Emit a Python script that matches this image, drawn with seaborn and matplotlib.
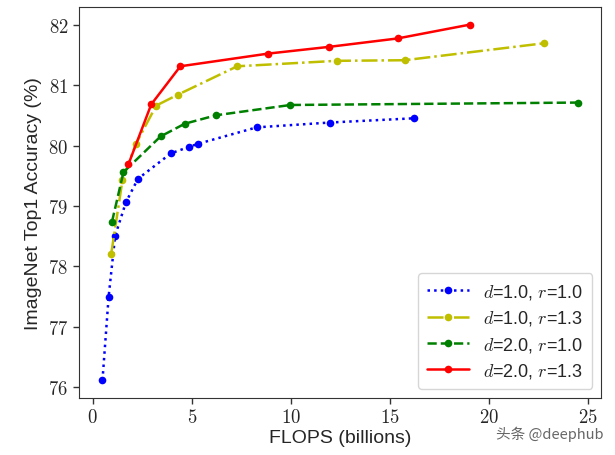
import matplotlib
matplotlib.use("Agg")
import matplotlib.pyplot as plt
import matplotlib.ticker as mticker
import seaborn as sns

# FLOPS (billions) and ImageNet top-1 accuracy
D10_R10_FLOPS = [0.49, 0.80, 1.13, 1.67, 2.28, 3.94, 4.88, 5.33, 8.27, 11.96, 16.20]
D10_R10_ACC = [76.12, 77.50, 78.51, 79.06, 79.45, 79.87, 79.98, 80.03, 80.30, 80.38, 80.45]

D10_R13_FLOPS = [0.93, 1.50, 2.18, 3.20, 4.29, 7.29, 12.30, 15.74, 22.76]
D10_R13_ACC = [78.21, 79.43, 80.03, 80.66, 80.84, 81.31, 81.40, 81.41, 81.69]

D20_R10_FLOPS = [0.97, 1.55, 3.42, 4.64, 6.22, 9.97, 24.47]
D20_R10_ACC = [78.74, 79.56, 80.15, 80.36, 80.50, 80.67, 80.71]

D20_R13_FLOPS = [1.80, 2.95, 4.42, 8.86, 11.90, 15.38, 19.05]
D20_R13_ACC = [79.69, 80.68, 81.31, 81.52, 81.63, 81.77, 82.00]

LABELS = [r"$d$=1.0, $r$=1.0", r"$d$=1.0, $r$=1.3",
          r"$d$=2.0, $r$=1.0", r"$d$=2.0, $r$=1.3"]


def main():
    sns.set_style("ticks")
    plt.rcParams["font.family"] = ["Liberation Sans", "DejaVu Sans"]
    plt.rcParams["mathtext.fontset"] = "cm"

    fig = plt.figure(figsize=(6.15, 4.56), dpi=100)
    ax = fig.add_axes([0.128, 0.125, 0.850, 0.858])

    series = [
        (D10_R10_FLOPS, D10_R10_ACC, "b", ":"),
        (D10_R13_FLOPS, D10_R13_ACC, "y", "-."),
        (D20_R10_FLOPS, D20_R10_ACC, "g", "--"),
        (D20_R13_FLOPS, D20_R13_ACC, "r", "-"),
    ]
    for (xs, ys, c, ls), lab in zip(series, LABELS):
        sns.lineplot(x=xs, y=ys, color=c, linestyle=ls, marker="o",
                     markersize=5.5, markeredgewidth=0, linewidth=1.8,
                     label=lab, ax=ax, sort=False)

    ax.xaxis.set_major_locator(mticker.MultipleLocator(5))
    ax.yaxis.set_major_locator(mticker.MultipleLocator(1))
    ax.xaxis.set_major_formatter(mticker.FuncFormatter(lambda v, p: f"${v:.0f}$"))
    ax.yaxis.set_major_formatter(mticker.FuncFormatter(lambda v, p: f"${v:.0f}$"))
    ax.tick_params(labelsize=13.5, length=4, width=1, color="#333333")
    for s in ax.spines.values():
        s.set_color("#333333")

    ax.set_xlabel("FLOPS (billions)", fontsize=14, labelpad=2)
    ax.set_ylabel("ImageNet Top1 Accuracy (%)", fontsize=14, labelpad=4)

    ax.legend(loc="lower right", fontsize=13, handlelength=2.3,
              labelspacing=0.4, borderpad=0.5)

    fig.text(0.982, 0.03, "头条 @deephub", ha="right", va="bottom",
             fontsize=10.5, color="#666666",
             family=["Noto Sans CJK SC", "DejaVu Sans"])

    fig.savefig("out.png", dpi=100)
    plt.close(fig)


if __name__ == "__main__":
    main()
